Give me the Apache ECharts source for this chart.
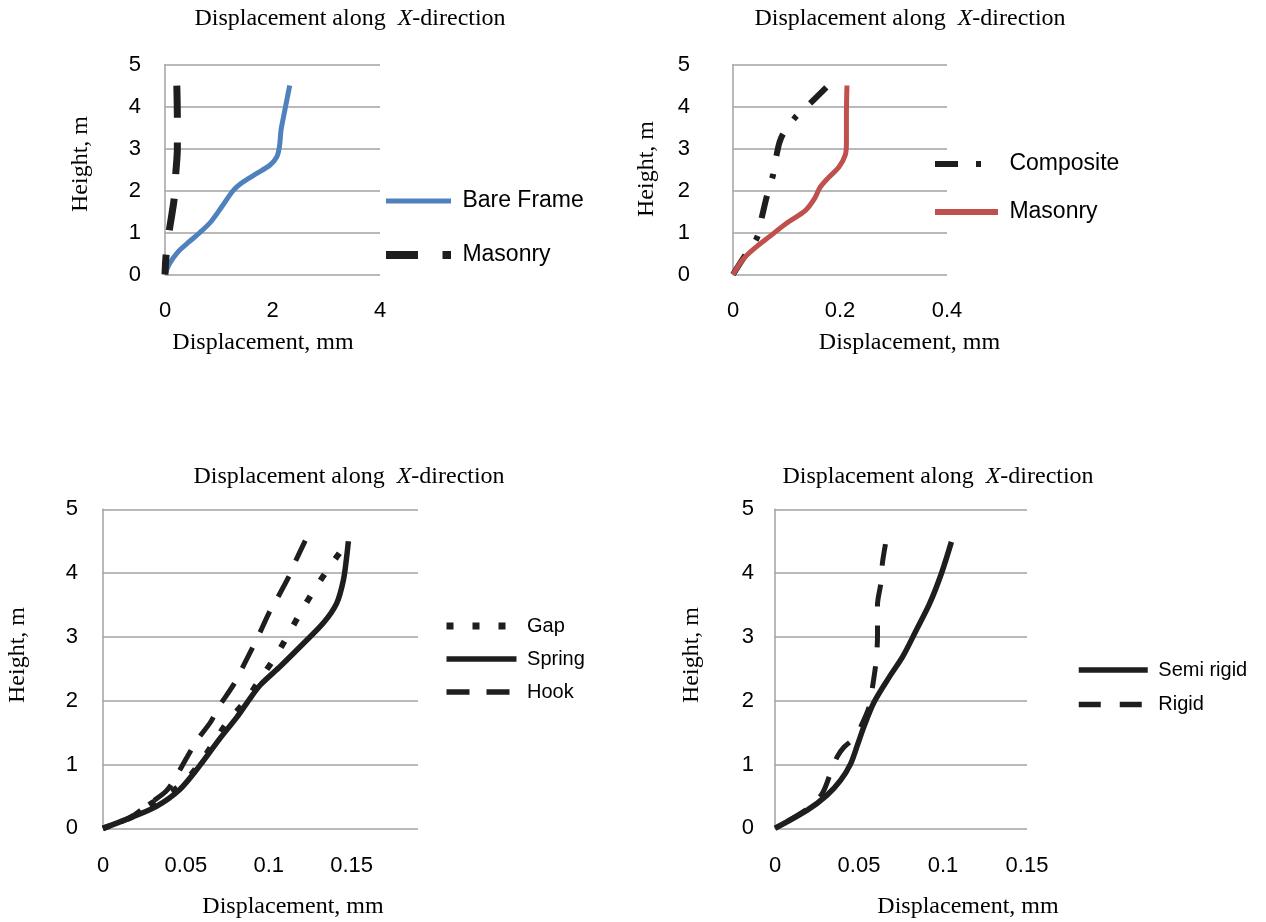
<!DOCTYPE html>
<html><head><meta charset="utf-8">
<script src="https://cdn.jsdelivr.net/npm/echarts@6/dist/echarts.min.js"></script>
<style>html,body{margin:0;padding:0;background:#fff}#c{width:1266px;height:922px}</style>
</head><body><div id="c"></div>
<script>
// ---------- data (x = displacement mm, y = height m) ----------
const titleText = 'Displacement along  X-direction';
const xName = 'Displacement, mm';
const yName = 'Height, m';

// Panel 1
const bareFrame = [[0,0],[0.08,0.25],[0.25,0.55],[0.45,0.78],[0.65,1.0],[0.85,1.25],[1.05,1.6],[1.27,2.0],[1.45,2.2],[1.7,2.4],[1.95,2.6],[2.08,2.8],[2.13,3.05],[2.16,3.45],[2.22,3.85],[2.32,4.5]];
const masonry1 = [[0,0],[0.02,0.45],[0.08,1.05],[0.13,1.45],[0.17,1.8],[0.2,2.4],[0.23,3.0],[0.23,3.7],[0.22,4.5]];
// Panel 2
const composite = [[0,0],[0.02,0.4],[0.045,0.88],[0.054,1.37],[0.064,1.9],[0.075,2.38],[0.082,2.88],[0.087,3.15],[0.095,3.38],[0.117,3.75],[0.147,4.11],[0.178,4.5]];
const masonry2 = [[0,0],[0.018,0.35],[0.04,0.62],[0.07,0.92],[0.1,1.22],[0.135,1.52],[0.152,1.8],[0.163,2.08],[0.178,2.3],[0.198,2.56],[0.21,2.85],[0.212,3.15],[0.212,3.8],[0.213,4.5]];
// Panel 3
const gap = [[0,0],[0.016,0.16],[0.028,0.37],[0.047,0.68],[0.057,0.97],[0.066,1.31],[0.075,1.66],[0.086,2.0],[0.095,2.35],[0.104,2.69],[0.112,3.05],[0.12,3.42],[0.128,3.76],[0.137,4.11],[0.147,4.47]];
const spring = [[0,0],[0.016,0.16],[0.032,0.34],[0.046,0.6],[0.058,0.97],[0.07,1.39],[0.081,1.75],[0.088,2.01],[0.095,2.25],[0.107,2.54],[0.121,2.9],[0.133,3.22],[0.141,3.53],[0.145,3.89],[0.147,4.26],[0.148,4.5]];
const hook = [[0,0],[0.016,0.16],[0.027,0.37],[0.038,0.58],[0.044,0.81],[0.051,1.13],[0.057,1.39],[0.065,1.67],[0.07,1.91],[0.078,2.22],[0.083,2.46],[0.089,2.77],[0.094,3.03],[0.1,3.37],[0.105,3.6],[0.112,3.94],[0.116,4.18],[0.122,4.51]];
// Panel 4
const semiRigid = [[0,0],[0.019,0.28],[0.031,0.52],[0.039,0.75],[0.045,1.01],[0.049,1.3],[0.053,1.6],[0.059,1.98],[0.068,2.37],[0.076,2.69],[0.084,3.1],[0.092,3.52],[0.099,3.99],[0.105,4.49]];
const rigid = [[0,0],[0.019,0.3],[0.028,0.54],[0.033,0.86],[0.037,1.12],[0.041,1.27],[0.047,1.41],[0.051,1.59],[0.056,1.9],[0.058,2.21],[0.06,2.58],[0.061,3.0],[0.061,3.5],[0.063,3.84],[0.064,4.17],[0.066,4.49]];

const xRanges = [[0,4,2],[0,0.4,0.2],[0,0.19,0.05],[0,0.15,0.05]];
const yRange = [0,5,1];

// ---------- styling ----------
const SANS = '"Liberation Sans", Arial, sans-serif';
const SERIF = '"Liberation Serif", "Times New Roman", serif';
const GRID_C = '#a2a2a2';
const BLACK = '#1e1e1e';

const grids = [
  {left:165, top:64.5, width:215, height:210},
  {left:733, top:64.5, width:214, height:210},
  {left:103, top:509.3, width:315, height:319},
  {left:775, top:509.3, width:252, height:319}
];
const yLabelMargins = [24, 43, 25, 21];
const xLabelMargins = [25, 25, 27, 27];

const xAxes = xRanges.map((r,i)=>({
  type:'value', gridIndex:i, min:r[0], max:r[1], interval:r[2],
  axisLine:{show:false}, axisTick:{show:false}, splitLine:{show:false},
  axisLabel:{color:'#000', fontFamily:SANS, fontSize:22, margin:xLabelMargins[i], showMaxLabel: i===2 ? false : true}
}));
const yAxes = grids.map((g,i)=>({
  type:'value', gridIndex:i, min:yRange[0], max:yRange[1], interval:yRange[2],
  axisLine:{show:true, lineStyle:{color:GRID_C, width:1.5}}, axisTick:{show:false},
  splitLine:{show:true, lineStyle:{color:GRID_C, width:1.5}},
  axisLabel:{color:'#000', fontFamily:SANS, fontSize:22, margin:yLabelMargins[i]}
}));

function ser(name, data, idx, color, width, type, offset){
  return {
    name, type:'line', data, xAxisIndex:idx, yAxisIndex:idx,
    symbol:'none', smooth:0.3, clip:false, silent:true,
    lineStyle:{color, width, type, cap:'butt', dashOffset: offset||0},
    itemStyle:{color}
  };
}

const series = [
  ser('Bare Frame', bareFrame, 0, '#4f81bd', 5, 'solid'),
  ser('Masonry#1', masonry1, 0, BLACK, 7, [32,24.5], 12),
  ser('Composite', composite, 1, BLACK, 6, [23,18,5,18]),
  ser('Masonry#2', masonry2, 1, '#c0504d', 5, 'solid'),
  ser('Gap', gap, 2, BLACK, 6, [7,19]),
  ser('Spring', spring, 2, BLACK, 5.5, 'solid'),
  ser('Hook', hook, 2, BLACK, 5, [23,17], 21),
  ser('Semi rigid', semiRigid, 3, BLACK, 5.5, 'solid'),
  ser('Rigid', rigid, 3, BLACK, 5, [22,19], 27)
];

const legendFmt = n => ' ' + n.split('#')[0];
function leg(items, left, top, w, gapPx, fs){
  return {
    data: items.map(it => ({name: it[0], lineStyle: {width: it[1], dashOffset: 0}})),
    orient:'vertical', left, top, itemWidth:w, itemHeight:12, itemGap:gapPx,
    selectedMode:false, formatter:legendFmt, padding:0,
    itemStyle:{opacity:0},
    lineStyle:{width:'inherit', dashOffset:0},
    textStyle:{color:'#000', fontFamily:SANS, fontSize:fs}
  };
}
const legends = [
  leg([['Bare Frame',5],['Masonry#1',8]], 382, 189.5, 65, 31, 23),
  leg([['Composite',6],['Masonry#2',6]], 932, 152.5, 63, 25, 23),
  leg([['Gap',7],['Spring',5.5],['Hook',5.5]], 443, 616, 70, 13, 20),
  leg([['Semi rigid',5.5],['Rigid',5.5]], 1076, 660, 69, 14.5, 20)
];

const titlePos = [[350,19],[910,19],[349,477],[938,477]];
const xNamePos = [[263,343],[909.5,343],[293,907],[968,907]];
const yNamePos = [[80.5,164],[647,169],[18,655],[692,655]];

const graphics = [];
titlePos.forEach(p=>{
  graphics.push({type:'text', x:p[0], y:p[1], silent:true, style:{
    text:'{a|Displacement along  }{b|X}{a|-direction}',
    align:'center', verticalAlign:'middle',
    rich:{a:{font:'24px ' + SERIF, fill:'#000'}, b:{font:'italic 24px ' + SERIF, fill:'#000'}}
  }});
});
xNamePos.forEach(p=>{
  graphics.push({type:'text', x:p[0], y:p[1], silent:true, style:{
    text:xName, font:'24px ' + SERIF, fill:'#000', align:'center', verticalAlign:'middle'}});
});
yNamePos.forEach(p=>{
  graphics.push({type:'text', x:p[0], y:p[1], rotation:Math.PI/2, silent:true, style:{
    text:yName, font:'24px ' + SERIF, fill:'#000', align:'center', verticalAlign:'middle'}});
});

const chart = echarts.init(document.getElementById('c'), null, {renderer:'canvas'});
chart.setOption({
  backgroundColor:'#fff',
  animation:false,
  grid:grids,
  xAxis:xAxes,
  yAxis:yAxes,
  legend:legends,
  series,
  graphic:graphics
});
</script>
</body></html>
